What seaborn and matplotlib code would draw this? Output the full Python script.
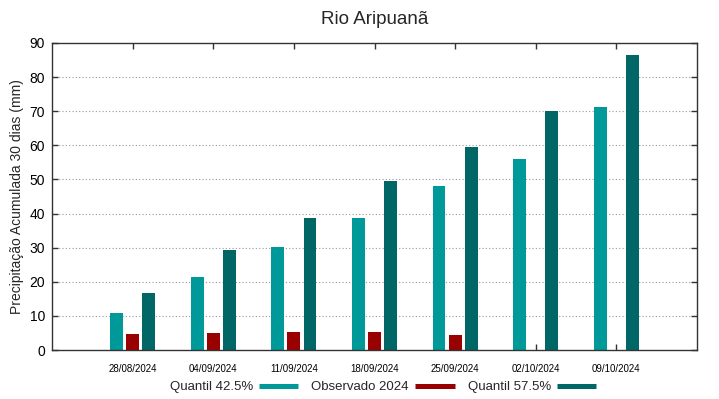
import seaborn as sns
import matplotlib.pyplot as plt
import pandas as pd
import numpy as np
from matplotlib.lines import Line2D

# values (mm)
dates = ["28/08/2024", "04/09/2024", "11/09/2024", "18/09/2024",
         "25/09/2024", "02/10/2024", "09/10/2024"]
quantil_425 = [10.8, 21.3, 30.2, 38.8, 48.0, 55.9, 71.3]
observado_2024 = [4.8, 5.0, 5.2, 5.2, 4.3, np.nan, np.nan]
quantil_575 = [16.7, 29.3, 38.6, 49.4, 59.4, 70.0, 86.6]

series_names = ["Quantil 42.5%", "Observado 2024", "Quantil 57.5%"]
colors = ["#009999", "#990000", "#006666"]

df = pd.DataFrame({
    "data": dates * 3,
    "valor": quantil_425 + observado_2024 + quantil_575,
    "serie": [s for s in series_names for _ in dates],
})

sns.set_style("white")
plt.rcParams["font.family"] = ["Liberation Sans", "DejaVu Sans"]

fig = plt.figure(figsize=(7.19, 3.99), dpi=100)
ax = fig.add_axes([52 / 719, 49 / 399, 645 / 719, 307 / 399])

sns.barplot(data=df, x="data", y="valor", hue="serie", hue_order=series_names,
            palette=colors, width=0.6, gap=0.2, saturation=1, ax=ax,
            edgecolor="none", legend=False)

ax.set_xlim(-1, 7)
ax.set_ylim(0, 90)
ax.set_yticks(range(0, 91, 10))
for y in range(10, 90, 10):
    ax.axhline(y, color="#999999", linestyle=(0, (1, 2)), linewidth=0.8, zorder=0)
ax.set_axisbelow(True)

for side in ["left", "right", "top", "bottom"]:
    ax.spines[side].set_visible(True)
    ax.spines[side].set_color("#333333")
    ax.spines[side].set_linewidth(1)

ax.tick_params(axis="y", direction="in", length=4, width=1, labelsize=10,
               pad=5, left=True, right=True, colors="#333333", labelcolor="black")
ax.tick_params(axis="x", direction="in", length=4, width=1, labelsize=7,
               pad=10, bottom=True, top=True, colors="#333333", labelcolor="black")

ax.set_xlabel("")
ax.set_ylabel("Precipitação Acumulada 30 dias (mm)", fontsize=10, labelpad=4)
ax.set_title("Rio Aripuanã", fontsize=13.5, pad=14)

handles = [Line2D([0], [0], color=c, linewidth=3.6, solid_capstyle="butt")
           for c in colors]
fig.legend(handles, series_names, loc="center", bbox_to_anchor=(383 / 719, 12 / 399),
           ncol=3, frameon=False, markerfirst=False, fontsize=9.5,
           handlelength=3.0, columnspacing=1.0, handletextpad=0.45)

fig.savefig("out.png", dpi=100)
